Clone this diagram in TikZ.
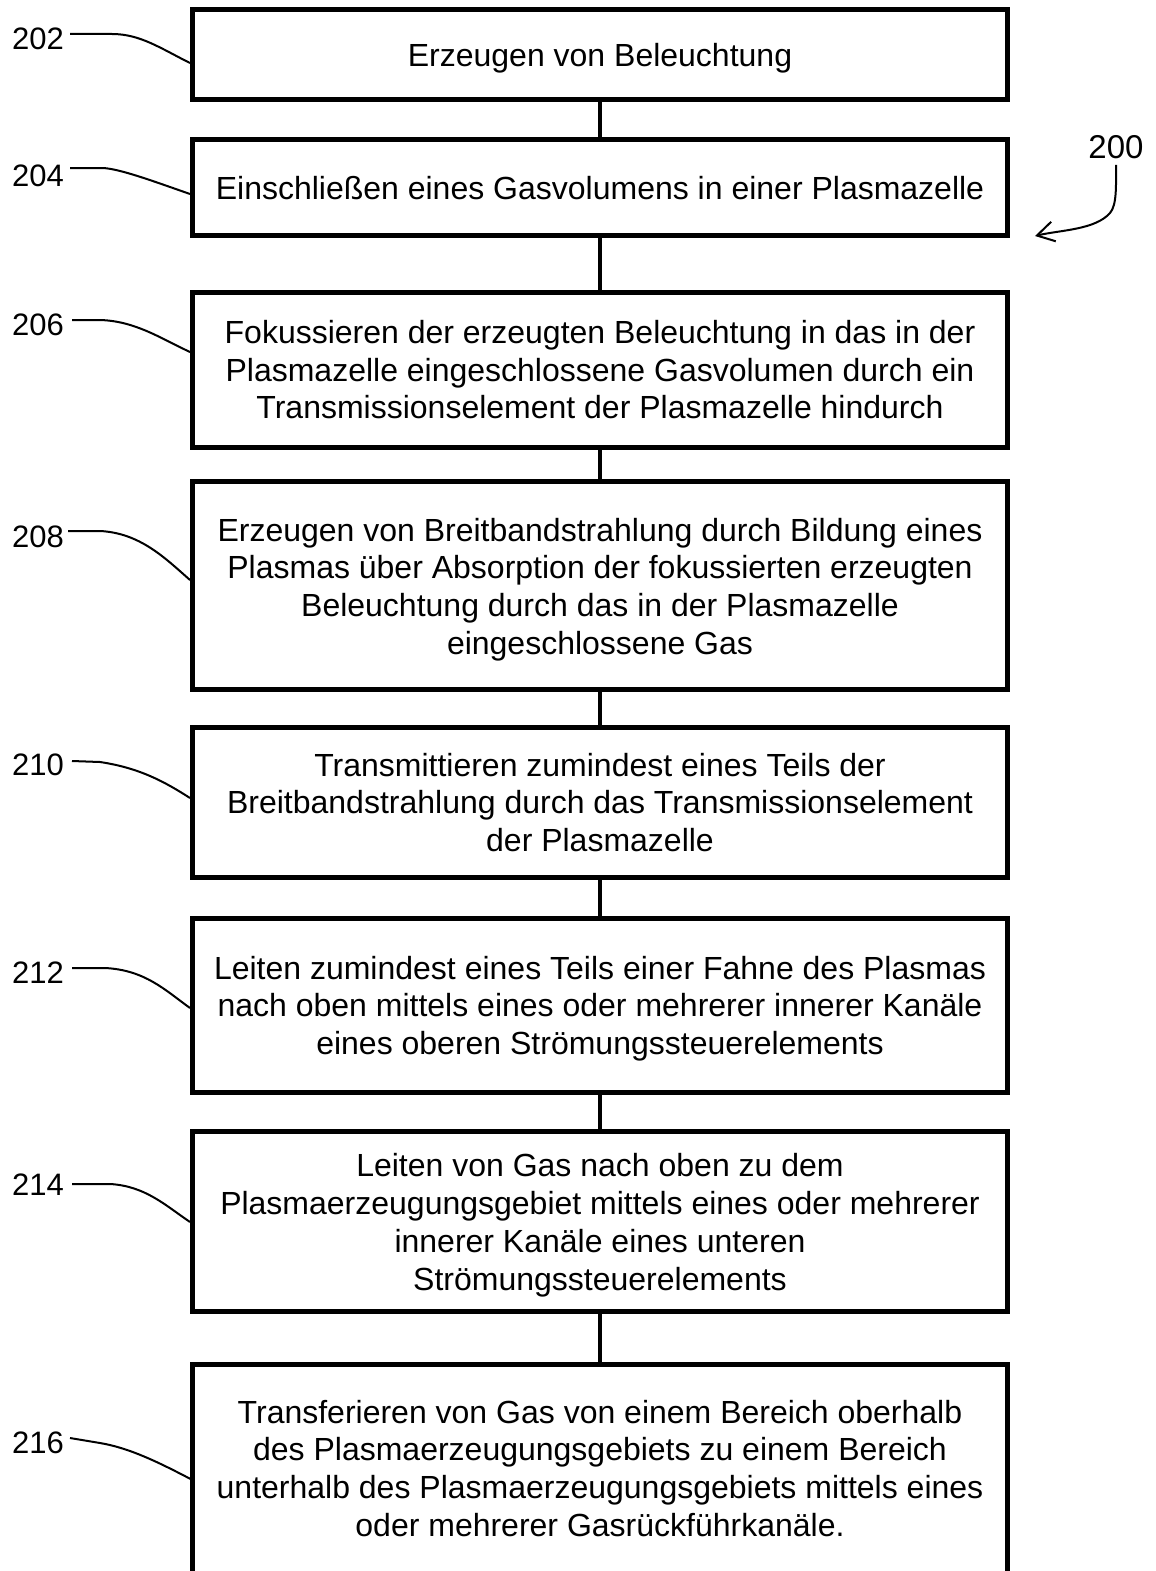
\documentclass[tikz,border=0pt]{standalone}
\usepackage{fontspec}
\setmainfont{Liberation Sans}
\usetikzlibrary{arrows.meta}
\begin{document}
\begin{tikzpicture}[x=1pt,y=-1pt,
  stepbox/.style={draw,line width=5pt,minimum width=815pt,inner sep=0pt},
  steptext/.style={anchor=north,align=center,inner sep=0pt,font=\fontsize{32}{37.7}\selectfont},
  reflabel/.style={anchor=east,inner sep=0pt,font=\fontsize{31}{37}\selectfont},
  leader/.style={line width=2pt},
  link/.style={line width=4.5pt}]
\useasboundingbox (0,0) rectangle (1156,1571);
\clip (0,0) rectangle (1156,1571);
\fill[white] (0,0) rectangle (1156,1571);
% boxes
\node[stepbox,minimum height=89pt] (b1) at (600,54.5) {};
\node[stepbox,minimum height=96.5pt] (b2) at (600,187.3) {};
\node[stepbox,minimum height=155pt] (b3) at (600,370) {};
\node[stepbox,minimum height=208pt] (b4) at (600,585) {};
\node[stepbox,minimum height=150pt] (b5) at (600,802.5) {};
\node[stepbox,minimum height=174pt] (b6) at (600,1005.6) {};
\node[stepbox,minimum height=180pt] (b7) at (600,1221) {};
% last box (cut off at bottom)
\draw[line width=5pt] (192.5,1700) -- (192.5,1364) -- (1007.5,1364) -- (1007.5,1700);
\coordinate (b8top) at (600,1364);
\coordinate (b8left) at (192.5,1480);
% texts
\node[steptext] (t1) at (600,43.2) {Erzeugen von Beleuchtung};
\node[steptext] (t2) at (600,176.2) {Einschließen eines Gasvolumens in einer Plasmazelle};
\node[steptext] (t3) at (600,320.2) {Fokussieren der erzeugten Beleuchtung in das in der\\Plasmazelle eingeschlossene Gasvolumen durch ein\\Transmissionselement der Plasmazelle hindurch};
\node[steptext] (t4) at (600,517.8) {Erzeugen von Breitbandstrahlung durch Bildung eines\\Plasmas über Absorption der fokussierten erzeugten\\Beleuchtung durch das in der Plasmazelle\\eingeschlossene Gas};
\node[steptext] (t5) at (600,752.8) {Transmittieren zumindest eines Teils der\\Breitbandstrahlung durch das Transmissionselement\\der Plasmazelle};
\node[steptext] (t6) at (600,955.8) {Leiten zumindest eines Teils einer Fahne des Plasmas\\nach oben mittels eines oder mehrerer innerer Kanäle\\eines oberen Strömungssteuerelements};
\node[steptext] (t7) at (600,1153.5) {Leiten von Gas nach oben zu dem\\Plasmaerzeugungsgebiet mittels eines oder mehrerer\\innerer Kanäle eines unteren\\Strömungssteuerelements};
\node[steptext] (t8) at (600,1399.8) {Transferieren von Gas von einem Bereich oberhalb\\des Plasmaerzeugungsgebiets zu einem Bereich\\unterhalb des Plasmaerzeugungsgebiets mittels eines\\oder mehrerer Gasrückführkanäle.};
% connectors
\draw[link] (b1.south) -- (b2.north);
\draw[link] (b2.south) -- (b3.north);
\draw[link] (b3.south) -- (b4.north);
\draw[link] (b4.south) -- (b5.north);
\draw[link] (b5.south) -- (b6.north);
\draw[link] (b6.south) -- (b7.north);
\draw[link] (b7.south) -- (b8top);
% reference labels
\node[reflabel] (l202) at (64,39) {202};
\node[reflabel] (l204) at (64,176) {204};
\node[reflabel] (l206) at (64,325) {206};
\node[reflabel] (l208) at (64,537) {208};
\node[reflabel] (l210) at (64,765) {210};
\node[reflabel] (l212) at (64,973) {212};
\node[reflabel] (l214) at (64,1185) {214};
\node[reflabel] (l216) at (64,1443) {216};
\draw[leader] ([xshift=6pt,yshift=5pt]l202.east) -- (112,34) .. controls (140,34) and (160,48) .. ([yshift=-8.5pt]b1.west);
\draw[leader] ([xshift=6pt,yshift=8pt]l204.east) -- (103,168) .. controls (120,169) and (150,180) .. ([yshift=-6.7pt]b2.west);
\draw[leader] ([xshift=8pt,yshift=5pt]l206.east) -- (100,320) .. controls (135,321) and (160,338) .. ([yshift=18pt]b3.west);
\draw[leader] ([xshift=4pt,yshift=6pt]l208.east) -- (100,531) .. controls (140,533) and (165,558) .. ([yshift=5pt]b4.west);
\draw[leader] ([xshift=8pt,yshift=4pt]l210.east) -- (100,762) .. controls (140,768) and (165,782) .. ([yshift=4.5pt]b5.west);
\draw[leader] ([xshift=8pt,yshift=5pt]l212.east) -- (105,968) .. controls (145,970) and (165,990) .. ([yshift=-2.4pt]b6.west);
\draw[leader] ([xshift=8pt,yshift=1pt]l214.east) -- (110,1184) .. controls (145,1186) and (165,1205) .. ([yshift=-1pt]b7.west);
\draw[leader] ([xshift=6pt,yshift=5pt]l216.east) -- (100,1443) .. controls (130,1448) and (160,1463) .. (b8left);
% overall label 200
\node[inner sep=0pt,font=\fontsize{33}{38}\selectfont] (l200) at (1116,147) {200};
\coordinate (a200) at (1035,236);
\draw[line width=2pt,-{Straight Barb[length=17pt,width=20pt,line width=2pt]}] ([yshift=-6pt]l200.south) .. controls (1116,185) and (1117,205) .. (1110,213) .. controls (1095,230) and (1060,230) .. (a200);
\end{tikzpicture}
\end{document}
